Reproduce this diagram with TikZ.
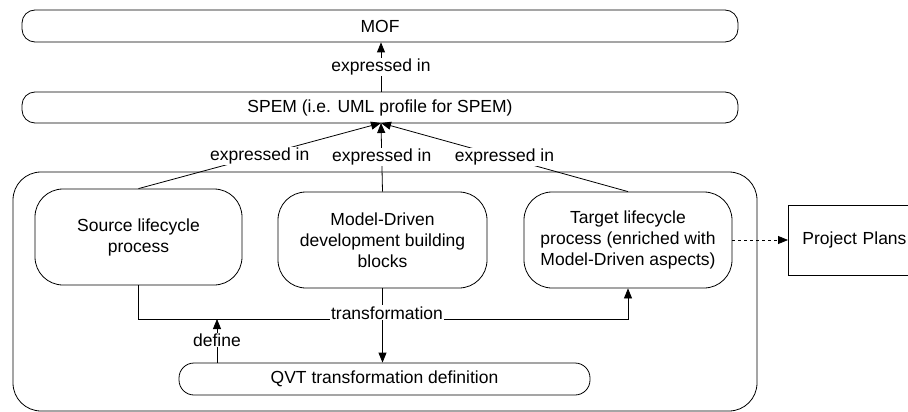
\documentclass[tikz,border=0pt]{standalone}
\usepackage{fontspec}
\setmainfont{Liberation Sans}
\usetikzlibrary{arrows.meta}
\begin{document}
\begin{tikzpicture}[x=1pt,y=-1pt,
  every node/.style={font=\fontsize{17.5}{21}\selectfont, align=center},
  pill/.style={draw, line width=0.8pt, rounded corners=13pt, inner sep=0pt},
  procbox/.style={draw, line width=0.8pt, rounded corners=28pt, inner sep=0pt},
  lbl/.style={fill=white, inner sep=1pt},
  conn/.style={line width=0.8pt},
  arr/.style={conn, -{Triangle[length=10pt,width=8pt]}},
  darr/.style={conn, dashed, -{Triangle[length=10pt,width=8pt]}}]
\clip (0,0) rectangle (908,412);
\useasboundingbox (0,0) rectangle (908,412);
\node[pill, minimum width=716pt, minimum height=32pt] (mof) at (380,26) {MOF};
\node[pill, minimum width=716pt, minimum height=31pt] (spem) at (380,107.5) {SPEM (i.e. UML profile for SPEM)};
\node[procbox, minimum width=744pt, minimum height=239pt] (outer) at (385,291.5) {};
\node[procbox, minimum width=207pt, minimum height=96pt] (src) at (138.5,237) {Source lifecycle\\process};
\node[procbox, minimum width=209pt, minimum height=96pt] (mdd) at (382.5,240) {Model-Driven\\development building\\blocks};
\node[procbox, minimum width=208pt, minimum height=96pt] (tgt) at (628,240) {Target lifecycle\\process (enriched with\\Model-Driven aspects)};
\node[draw, line width=0.8pt, anchor=west, minimum height=70pt, text width=150pt, inner sep=14pt, align=left] (pp) at (788,240) {Project Plans};
\node[pill, minimum width=411pt, minimum height=32pt, rounded corners=15pt] (qvt) at (384.5,379) {QVT transformation definition};
% expressed in arrows
\coordinate (conv) at (381,123);
\draw[arr] (spem.north -| conv) -- (mof.south -| conv) node[lbl, pos=0.5] (e0) {expressed in};
\draw[arr] (src.north) -- (conv) node[lbl, pos=0.5] (e1) {expressed in};
\draw[arr] (mdd.north) -- (conv) node[lbl, pos=0.5] (e2) {expressed in};
\draw[arr] (tgt.north) -- (conv) node[lbl, pos=0.5] (e3) {expressed in};
% transformation
\coordinate (tl) at (139,319);
\draw[arr] (src.south) -- (src.south |- tl) -- (tl -| tgt.south) -- (tgt.south);
\draw[arr] (mdd.south) -- (mdd.south |- qvt.north);
\node[lbl, anchor=base] (tr) at (387,319) {transformation};
% define
\coordinate (df) at (217,319);
\draw[arr] (qvt.north -| df) -- (df);
\node[lbl] (dl) at (217,340) {define};
% dashed
\draw[darr] (tgt.east) -- (pp.west);
\end{tikzpicture}
\end{document}
